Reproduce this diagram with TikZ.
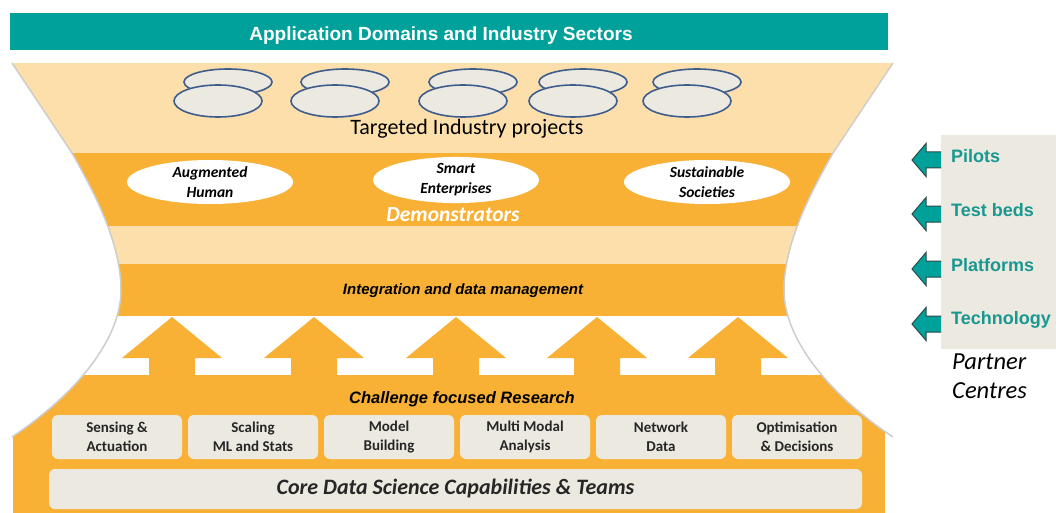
\documentclass[tikz,border=0pt]{standalone}
\usepackage{fontspec}
\setmainfont{Carlito}
\newfontfamily\arialfont{Liberation Sans}
\usetikzlibrary{shapes.geometric}

\definecolor{bannerteal}{RGB}{0,161,154}
\definecolor{partnerteal}{RGB}{24,152,145}
\definecolor{funnellight}{RGB}{253,223,171}
\definecolor{funnelorange}{RGB}{248,177,53}
\definecolor{capbeige}{RGB}{236,233,224}
\definecolor{ovalblue}{RGB}{62,92,140}
\definecolor{arrowline}{RGB}{44,72,72}
\definecolor{ghostgray}{RGB}{205,205,205}

% outline of the hourglass
\def\funnelpath{(12,63) -- (893,63) -- (833,153)
  .. controls (815,185) and (784,240) .. (784,290)
  .. controls (784,340) and (830,395) .. (893,437)
  -- (893,513) -- (12,513) -- (12,437)
  .. controls (75,395) and (121,340) .. (121,290)
  .. controls (121,240) and (90,185) .. (72,153) -- cycle}

\begin{document}
\begin{tikzpicture}[x=1pt, y=-1pt,
	oval/.style={fill=capbeige, draw=ovalblue, line width=1.6pt},
	demo/.style={ellipse, fill=white, minimum width=166pt, minimum height=44pt, inner sep=0pt, align=center, font=\fontsize{15.5}{20}\selectfont\bfseries\itshape},
	capbox/.style={rectangle, rounded corners=6pt, fill=capbeige, minimum width=130pt, minimum height=44pt, inner sep=0pt, align=center, font=\fontsize{15}{19.5}\selectfont\bfseries, text=black!85},
	partner/.style={anchor=west, inner sep=0pt, text=partnerteal, font=\arialfont\fontsize{18}{20}\selectfont\bfseries},
	tealarrow/.style={fill=bannerteal, draw=arrowline, line width=1pt},
	shade/.style={draw=ghostgray, line width=1.5pt}]
	\useasboundingbox (0,0) rectangle (1056,513);

	% banner
	\fill[bannerteal] (10,13) rectangle (888,50);
	\node[text=white, font=\arialfont\fontsize{19}{22}\selectfont\bfseries] (domains) at (441,36) {Application Domains and Industry Sectors};

	% bands inside the funnel
	\begin{scope}
		\clip \funnelpath;
		\fill[funnellight] (0,63) rectangle (1056,153);
		\fill[funnelorange] (0,153) rectangle (1056,226);
		\fill[funnellight] (0,226) rectangle (1056,264);
		\fill[funnelorange] (0,264) rectangle (1056,316);
		\fill[funnelorange] (13,375) rectangle (885,513);
	\end{scope}
	\draw[shade] (12,63) -- (72,153) .. controls (90,185) and (121,240) .. (121,290)
		.. controls (121,340) and (75,395) .. (12,437);
	\draw[shade] (893,63) -- (833,153) .. controls (815,185) and (784,240) .. (784,290)
		.. controls (784,340) and (830,395) .. (893,437);

	% industry projects
	\foreach \x in {218,335,463,573,687} {
		\draw[oval] (\x+10,82) ellipse [x radius=44, y radius=13];
		\draw[oval] (\x,101) ellipse [x radius=44, y radius=16];
	}
	\node[font=\fontsize{22}{24}\selectfont] (targeted) at (467,129) {Targeted Industry projects};

	% demonstrators
	\node[demo] (human) at (210,182) {Augmented\\Human};
	\node[demo] (enterprises) at (456,180) {Smart\\Enterprises};
	\node[demo] (societies) at (707,182) {Sustainable\\Societies};
	\node[text=white, font=\fontsize{21.5}{24}\selectfont\bfseries\itshape] (demonstrators) at (453,215) {Demonstrators};

	\node[font=\arialfont\fontsize{15}{18}\selectfont\bfseries\itshape] (integration) at (463,291) {Integration and data management};

	% research pushing upwards
	\foreach \x in {172,314,456,597,738}
		\fill[funnelorange] (\x-23,376) -- (\x-23,358) -- (\x-50,358) -- (\x,317) -- (\x+50,358) -- (\x+23,358) -- (\x+23,376) -- cycle;
	\node[font=\arialfont\fontsize{16.5}{18}\selectfont\bfseries\itshape] (challenge) at (462,399) {Challenge focused Research};

	\foreach \lbl [count=\i from 0] in {{Sensing \&\\Actuation}, {Scaling\\ML and Stats}, {Model\\Building}, {Multi Modal\\Analysis}, {Network\\Data}, {Optimisation\\\& Decisions}}
		\node[capbox] (cap\i) at (117+136*\i,437) {\lbl};
	\node[capbox, minimum width=813pt, minimum height=40pt, font=\fontsize{22}{24}\selectfont\bfseries\itshape] (core) at (455.5,489) {Core Data Science Capabilities \& Teams};

	% partner centres
	\fill[capbeige] (941,135) rectangle (1056,349);
	\foreach \lbl/\y/\nm in {Pilots/155/pilots, Test beds/209/testbeds, Platforms/264/platforms, Technology/319/technology} {
		\node[partner] (\nm) at (951,\y+1) {\lbl};
		\draw[tealarrow] (941,\y-3) -- (926,\y-3) -- (926,\y-11.5) -- (912,\y+5) -- (926,\y+21.5) -- (926,\y+13) -- (941,\y+13);
	}
	\node[anchor=base west, inner sep=0pt, font=\fontsize{24.5}{29}\selectfont\itshape] (partner) at (952,369) {Partner};
	\node[anchor=base west, inner sep=0pt, font=\fontsize{24.5}{29}\selectfont\itshape] (centres) at (952,398) {Centres};
\end{tikzpicture}
\end{document}
